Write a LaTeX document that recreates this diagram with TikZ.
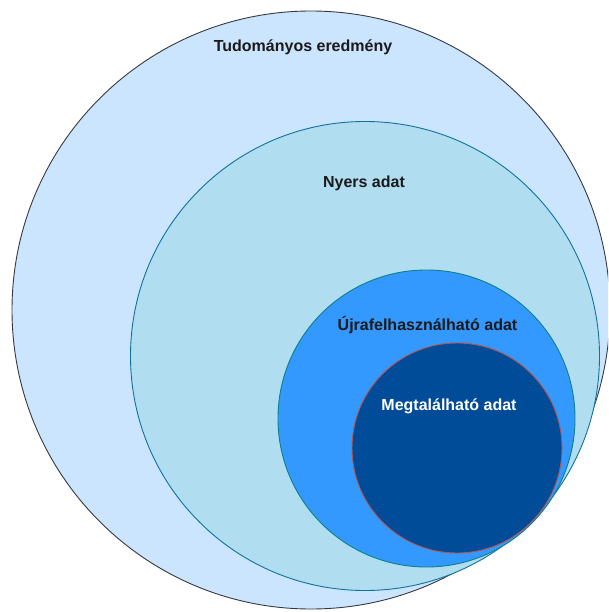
\documentclass[tikz,border=0pt]{standalone}
\usepackage{fontspec}
\setmainfont{Liberation Sans}
\begin{document}
\begin{tikzpicture}[x=1pt,y=-1pt,
  ring/.style={circle,line width=0.9pt,inner sep=0pt},
  lbl/.style={font=\fontsize{16}{19}\selectfont\bfseries,inner sep=0pt}]
\useasboundingbox (0,0) rectangle (608,612);
\clip (0,0) rectangle (608,612);
\definecolor{c1f}{HTML}{CCE5FF}\definecolor{c1s}{HTML}{36393D}
\definecolor{c2f}{HTML}{B1DDF0}\definecolor{c2s}{HTML}{10739E}
\definecolor{c3f}{HTML}{3399FF}\definecolor{c3s}{HTML}{0E8088}
\definecolor{c4f}{HTML}{004C99}\definecolor{c4s}{HTML}{B85450}
\definecolor{txt}{HTML}{1A1A1A}
\node[ring,fill=c1f,draw=c1s,minimum size=598pt] (outer) at (311,310) {};
\node[ring,fill=c2f,draw=c2s,minimum size=469pt] (raw) at (365,356) {};
\node[ring,fill=c3f,draw=c3s,minimum size=297pt] (reuse) at (426.5,418.5) {};
\node[ring,fill=c4f,draw=c4s,minimum size=210pt] (find) at (457,448) {};
\node[lbl,text=txt] (t1) at (303,47) {Tudományos eredmény};
\node[lbl,text=txt] (t2) at (364,183) {Nyers adat};
\node[lbl,text=txt] (t3) at (427.5,325) {Újrafelhasználható adat};
\node[lbl,text=white] (t4) at (449,406) {Megtalálható adat};
\end{tikzpicture}
\end{document}
